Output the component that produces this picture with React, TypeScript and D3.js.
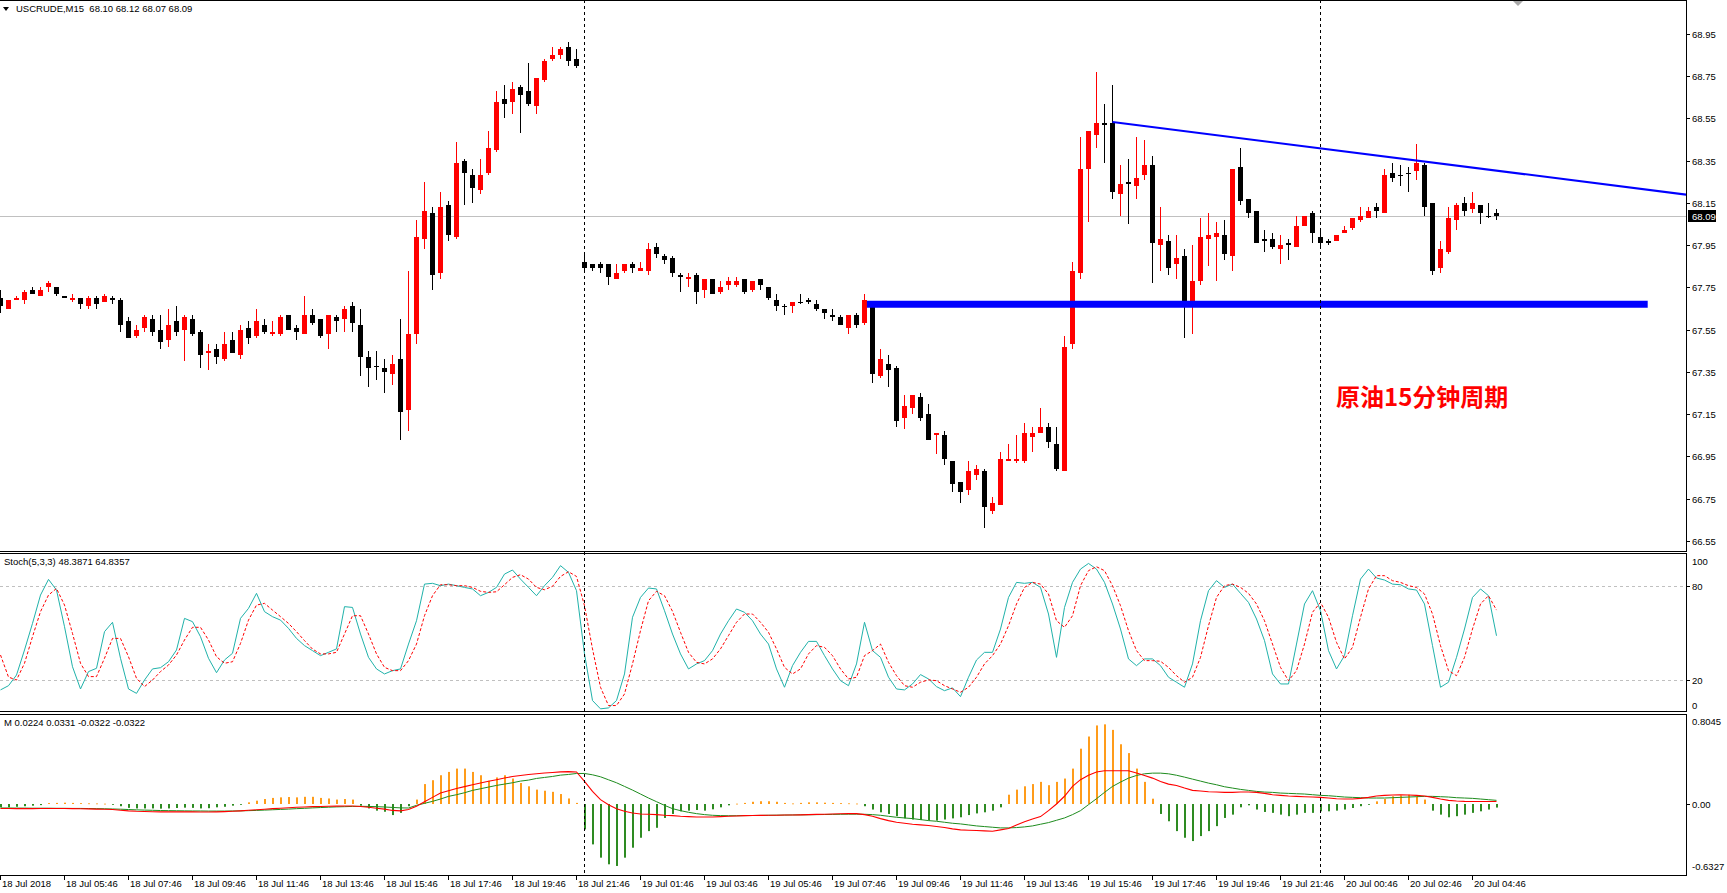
import React from 'react';
import * as d3 from 'd3';

const W = 1727;
const H = 893;

// ---------- price data (15-minute bars) ----------
const openP = [
  67.70, 67.65, 67.69, 67.69, 67.74, 67.71, 67.75, 67.75, 67.71, 67.69,
  67.70, 67.66, 67.70, 67.68, 67.70, 67.69, 67.59, 67.52, 67.56, 67.60,
  67.55, 67.50, 67.59, 67.55, 67.60, 67.54, 67.44, 67.46, 67.41, 67.50,
  67.43, 67.56, 67.52, 67.57, 67.53, 67.53, 67.62, 67.56, 67.53, 67.62,
  67.60, 67.53, 67.61, 67.60, 67.66, 67.57, 67.42, 67.38, 67.37, 67.34,
  67.41, 67.17, 67.53, 67.98, 68.10, 67.82, 68.14, 67.99, 68.35, 68.28,
  68.21, 68.29, 68.40, 68.64, 68.63, 68.70, 68.68, 68.61, 68.73, 68.83,
  68.85, 68.89, 68.83, 67.87, 67.86, 67.86, 67.86, 67.79, 67.83, 67.86,
  67.83, 67.83, 67.94, 67.90, 67.89, 67.81, 67.79, 67.81, 67.74, 67.79,
  67.73, 67.76, 67.76, 67.79, 67.74, 67.79, 67.75, 67.69, 67.66, 67.66,
  67.68, 67.69, 67.67, 67.65, 67.62, 67.61, 67.56, 67.62, 67.58, 67.68,
  67.33, 67.39, 67.37, 67.13, 67.18, 67.23, 67.15, 67.05, 67.05, 66.93,
  66.83, 66.79, 66.86, 66.88, 66.69, 66.72, 66.93, 66.93, 66.93, 67.04,
  67.06, 67.09, 67.01, 66.88, 67.48, 67.82, 68.31, 68.47, 68.53, 68.53,
  68.19, 68.25, 68.23, 68.28, 68.33, 67.95, 67.97, 67.86, 67.90, 67.67,
  67.78, 67.98, 67.99, 68.00, 67.90, 68.32, 68.17, 68.11, 67.98, 67.98,
  67.93, 67.96, 67.94, 68.04, 68.10, 67.99, 67.97, 67.97, 68.01, 68.03,
  68.07, 68.08, 68.13, 68.10, 68.29, 68.28, 68.29, 68.30, 68.33, 68.15,
  67.84, 67.92, 68.07, 68.15, 68.12, 68.14, 68.09, 68.10,
];
const highP = [
  67.74, 67.69, 67.71, 67.74, 67.75, 67.75, 67.78, 67.75, 67.71, 67.72,
  67.70, 67.71, 67.71, 67.72, 67.71, 67.70, 67.61, 67.57, 67.62, 67.62,
  67.62, 67.65, 67.66, 67.62, 67.62, 67.55, 67.48, 67.48, 67.54, 67.54,
  67.57, 67.59, 67.65, 67.60, 67.59, 67.62, 67.62, 67.57, 67.71, 67.65,
  67.60, 67.62, 67.62, 67.66, 67.68, 67.65, 67.45, 67.45, 67.41, 67.43,
  67.60, 67.83, 68.07, 68.25, 68.13, 68.20, 68.16, 68.44, 68.36, 68.31,
  68.36, 68.49, 68.68, 68.71, 68.72, 68.71, 68.81, 68.74, 68.83, 68.89,
  68.89, 68.91, 68.88, 67.91, 67.86, 67.87, 67.86, 67.86, 67.86, 67.87,
  67.87, 67.96, 67.96, 67.91, 67.90, 67.82, 67.82, 67.82, 67.79, 67.79,
  67.78, 67.80, 67.80, 67.79, 67.78, 67.79, 67.75, 67.72, 67.67, 67.68,
  67.72, 67.70, 67.69, 67.65, 67.65, 67.62, 67.62, 67.63, 67.72, 67.68,
  67.46, 67.43, 67.38, 67.24, 67.24, 67.25, 67.20, 67.06, 67.07, 66.93,
  66.83, 66.93, 66.91, 66.89, 66.76, 66.97, 67.01, 67.05, 67.11, 67.09,
  67.18, 67.11, 67.09, 67.52, 67.87, 68.46, 68.49, 68.77, 68.62, 68.71,
  68.33, 68.36, 68.46, 68.45, 68.37, 68.13, 68.00, 68.00, 67.93, 67.95,
  68.08, 68.10, 68.06, 68.07, 68.31, 68.41, 68.17, 68.11, 68.02, 68.01,
  68.00, 67.98, 68.09, 68.09, 68.11, 68.03, 67.98, 68.00, 68.04, 68.08,
  68.13, 68.13, 68.15, 68.31, 68.34, 68.33, 68.32, 68.43, 68.34, 68.15,
  67.97, 68.13, 68.15, 68.18, 68.20, 68.14, 68.15, 68.12,
];
const lowP = [
  67.63, 67.65, 67.69, 67.67, 67.72, 67.71, 67.73, 67.71, 67.70, 67.68,
  67.65, 67.65, 67.65, 67.68, 67.67, 67.54, 67.51, 67.51, 67.54, 67.52,
  67.46, 67.47, 67.52, 67.40, 67.52, 67.37, 67.36, 67.39, 67.40, 67.44,
  67.41, 67.48, 67.51, 67.53, 67.52, 67.52, 67.55, 67.50, 67.53, 67.57,
  67.51, 67.46, 67.54, 67.54, 67.54, 67.33, 67.28, 67.31, 67.25, 67.29,
  67.03, 67.07, 67.48, 67.93, 67.74, 67.79, 67.97, 67.98, 68.14, 68.15,
  68.19, 68.28, 68.39, 68.55, 68.57, 68.48, 68.61, 68.57, 68.72, 68.82,
  68.83, 68.80, 68.79, 67.82, 67.83, 67.82, 67.76, 67.79, 67.82, 67.82,
  67.83, 67.81, 67.89, 67.86, 67.80, 67.73, 67.75, 67.67, 67.70, 67.72,
  67.72, 67.74, 67.75, 67.72, 67.73, 67.74, 67.69, 67.64, 67.62, 67.63,
  67.67, 67.67, 67.64, 67.60, 67.59, 67.57, 67.53, 67.56, 67.57, 67.30,
  67.32, 67.28, 67.09, 67.08, 67.15, 67.12, 67.03, 66.96, 66.91, 66.78,
  66.73, 66.77, 66.84, 66.61, 66.68, 66.72, 66.93, 66.92, 66.92, 66.97,
  67.06, 66.99, 66.88, 66.88, 67.46, 67.79, 68.06, 68.41, 68.34, 68.17,
  68.09, 68.05, 68.17, 68.26, 67.77, 67.83, 67.81, 67.79, 67.51, 67.53,
  67.76, 67.85, 67.78, 67.88, 67.83, 68.14, 68.08, 67.96, 67.92, 67.93,
  67.86, 67.88, 67.94, 68.04, 67.96, 67.93, 67.95, 67.97, 68.01, 68.02,
  68.06, 68.08, 68.08, 68.10, 68.25, 68.23, 68.20, 68.26, 68.09, 67.81,
  67.82, 67.91, 68.02, 68.09, 68.10, 68.05, 68.08, 68.07,
];
const closeP = [
  67.66, 67.69, 67.70, 67.73, 67.72, 67.74, 67.77, 67.72, 67.70, 67.70,
  67.67, 67.70, 67.67, 67.71, 67.69, 67.57, 67.51, 67.55, 67.61, 67.54,
  67.49, 67.57, 67.54, 67.61, 67.53, 67.43, 67.45, 67.42, 67.48, 67.44,
  67.55, 67.51, 67.59, 67.54, 67.54, 67.61, 67.55, 67.54, 67.62, 67.58,
  67.52, 67.62, 67.59, 67.65, 67.58, 67.42, 67.37, 67.38, 67.35, 67.39,
  67.16, 67.53, 67.99, 68.11, 67.81, 68.13, 68.00, 68.34, 68.29, 68.22,
  68.28, 68.41, 68.63, 68.62, 68.69, 68.66, 68.62, 68.74, 68.82, 68.85,
  68.88, 68.82, 68.80, 67.84, 67.84, 67.84, 67.80, 67.82, 67.86, 67.84,
  67.84, 67.93, 67.91, 67.88, 67.82, 67.80, 67.80, 67.73, 67.79, 67.72,
  67.75, 67.78, 67.78, 67.73, 67.78, 67.76, 67.70, 67.66, 67.66, 67.68,
  67.68, 67.68, 67.65, 67.63, 67.61, 67.57, 67.62, 67.57, 67.69, 67.34,
  67.41, 67.36, 67.12, 67.19, 67.24, 67.13, 67.03, 67.06, 66.94, 66.82,
  66.78, 66.88, 66.89, 66.71, 66.73, 66.94, 66.94, 66.94, 67.06, 67.06,
  67.09, 67.02, 66.89, 67.47, 67.83, 68.31, 68.49, 68.53, 68.52, 68.20,
  68.24, 68.24, 68.27, 68.33, 67.96, 67.98, 67.84, 67.89, 67.66, 67.78,
  67.99, 68.00, 68.01, 67.91, 68.31, 68.16, 68.10, 67.96, 67.97, 67.94,
  67.95, 67.95, 68.04, 68.09, 68.01, 67.96, 67.96, 68.00, 68.02, 68.08,
  68.09, 68.11, 68.11, 68.28, 68.27, 68.28, 68.29, 68.34, 68.13, 67.83,
  67.93, 68.08, 68.14, 68.11, 68.15, 68.10, 68.09, 68.09,
];

// ---------- Stochastic(5,3,3) ----------
const stochK = [
  13.8, 16.5, 23.3, 39.3, 56.3, 74.4, 84.4, 77.6, 54.2, 28.6,
  14.4, 25.5, 27.6, 51, 57, 34, 14.4, 11.6, 20.1, 27.2,
  28, 31.8, 39.3, 59.5, 57.4, 47.8, 34, 24.8, 32.9, 37.2,
  59.5, 65.9, 75.5, 63.8, 60.6, 58.4, 53.1, 46.7, 42.1, 38.9,
  35.7, 37.8, 40, 67, 66.5, 49.5, 34.6, 27.2, 24, 26.1,
  27.2, 43.1, 58, 81.4, 81.9, 80.4, 81.4, 80.4, 79.3, 78.3,
  74, 76.1, 79.3, 87.8, 90.4, 84.6, 79.3, 74, 80.4, 85.7,
  93.2, 88.9, 77.2, 36.8, 7, 1.7, 2.3, 7, 24, 60.2,
  72.9, 78.9, 78.3, 64.4, 49.5, 36.8, 27.2, 30.4, 32.5, 38.9,
  49.5, 58, 65.5, 63.4, 58, 49.5, 43.1, 27.2, 15.5, 29.3,
  37.8, 44.8, 44.8, 35.7, 27.2, 19.7, 16.5, 30.4, 57, 38.9,
  34.6, 21.9, 14.4, 13.8, 17.6, 23.6, 20.8, 15.9, 13.3, 15.1,
  9.5, 21.9, 32.9, 37.8, 37.8, 52.7, 72.9, 82.5, 81.9, 82.5,
  79.3, 62.3, 34.6, 66.5, 82.5, 91, 94.6, 91, 82.5, 68.7,
  52.7, 33.6, 29.3, 33.6, 33.6, 29.3, 21.9, 18.7, 15.5, 30.4,
  58, 77.2, 83.6, 79.3, 81.4, 75.5, 69.7, 59.1, 45.3, 24,
  17.6, 17.6, 43.1, 68.7, 77.2, 64.4, 38.9, 27.2, 35.7, 61.2,
  84.6, 91, 85.3, 84, 81.4, 81, 78.3, 77.6, 68.7, 42.1,
  15.5, 18.7, 34.6, 52.7, 72.9, 78.3, 74, 48.4,
];
const stochD = [
  36.1, 22, 20.1, 30.8, 47.8, 63.8, 74.4, 78.6, 68, 49.9,
  30.8, 22.3, 22.3, 34, 46.7, 46.7, 35, 21.2, 15.9, 20.1,
  25.5, 29.7, 36.1, 45.7, 53.8, 53.8, 45.7, 35, 30.8, 31.8,
  43.5, 58.4, 68, 69.1, 64.8, 60.6, 56.3, 51, 45.3, 39.9,
  36.8, 36.8, 37.8, 49.5, 61.2, 61.2, 49.5, 36.8, 28.2, 26.1,
  26.1, 32.5, 43.1, 61.2, 74, 81, 81, 80.4, 80.4, 79.3,
  76.8, 76.1, 76.5, 81, 85.7, 87.4, 84.6, 79.3, 77.8, 80,
  86.3, 89.3, 86.3, 67.6, 40, 15.5, 3.8, 3.8, 11.2, 30.4,
  51.7, 70.8, 76.8, 74, 64, 50.6, 37.8, 31.4, 30.4, 33.6,
  40, 48.5, 57, 62.3, 62.3, 57, 50.6, 40, 28.2, 24,
  27.2, 36.8, 42.1, 41, 35.7, 27.2, 20.8, 21.9, 35.7, 38.9,
  43.1, 31.4, 22.9, 16.5, 15.5, 18.7, 20.2, 19.7, 16.5, 14.4,
  12.3, 15.5, 21.9, 30.4, 35.7, 43.1, 54.8, 68.7, 79.3, 82.5,
  81.4, 75.1, 58, 53.8, 61.2, 80.4, 90, 92.5, 90, 80.4,
  67.6, 51.7, 38.9, 32.5, 32.5, 32.1, 28.2, 22.9, 18.7, 21.9,
  34.6, 54.8, 72.9, 80.4, 81.4, 79.3, 75.5, 68.7, 58, 43.1,
  28.2, 19.7, 26.1, 43.1, 63.4, 69.7, 60.2, 44.2, 33.6, 41,
  60.2, 78.3, 86.8, 86.8, 83.6, 82.5, 80.4, 79.3, 75.1, 62.3,
  42.1, 26.1, 22.9, 34.6, 52.7, 68.7, 74, 64.8,
];
const stochLevels = [80, 20];
const stochAxisLabels = [100, 80, 20, 0];

// ---------- MACD-style oscillator ----------
const macdHist = [
  -0.03, -0.03, -0.025, -0.02, -0.015, -0.01, 0.008, 0.01, 0.012, 0.01,
  0.008, 0.006, 0.005, 0.003, -0.005, -0.02, -0.035, -0.04, -0.04, -0.04,
  -0.042, -0.04, -0.036, -0.033, -0.035, -0.04, -0.038, -0.03, -0.025, -0.015,
  -0.005, 0.015, 0.03, 0.045, 0.055, 0.06, 0.063, 0.06, 0.065, 0.065,
  0.055, 0.05, 0.04, 0.045, 0.04, -0.015, -0.04, -0.06, -0.07, -0.1,
  -0.08, -0.02, 0.04, 0.18, 0.215, 0.26, 0.29, 0.32, 0.32, 0.29,
  0.26, 0.21, 0.24, 0.26, 0.23, 0.19, 0.16, 0.13, 0.12, 0.11,
  0.09, 0.05, 0.01, -0.23, -0.365, -0.485, -0.545, -0.56, -0.485, -0.395,
  -0.305, -0.245, -0.215, -0.126, -0.09, -0.066, -0.06, -0.054, -0.06, -0.048,
  -0.03, -0.012, 0.003, 0.01, 0.02, 0.025, 0.025, 0.02, 0.01, 0.005,
  0.01, 0.015, 0.015, 0.012, 0.01, 0.008, 0.006, 0.004, -0.02, -0.05,
  -0.075, -0.09, -0.11, -0.13, -0.14, -0.145, -0.15, -0.15, -0.14, -0.13,
  -0.12, -0.1, -0.085, -0.075, -0.06, -0.03, 0.084, 0.13, 0.16, 0.18,
  0.2, 0.17, 0.2, 0.23, 0.32, 0.5, 0.61, 0.71, 0.72, 0.67,
  0.54, 0.46, 0.32, 0.2, 0.048, -0.09, -0.156, -0.245, -0.305, -0.335,
  -0.29, -0.245, -0.2, -0.126, -0.096, -0.03, -0.012, -0.05, -0.072, -0.08,
  -0.096, -0.11, -0.096, -0.08, -0.08, -0.066, -0.066, -0.06, -0.05, -0.036,
  -0.02, -0.006, 0.024, 0.045, 0.07, 0.078, 0.084, 0.07, 0.04, -0.06,
  -0.096, -0.12, -0.11, -0.096, -0.08, -0.066, -0.05, -0.0322,
];
const macdRed = [
  -0.040, -0.041, -0.042, -0.042, -0.042, -0.041, -0.040, -0.040, -0.041, -0.042,
  -0.043, -0.044, -0.046, -0.048, -0.050, -0.056, -0.062, -0.066, -0.068, -0.070,
  -0.071, -0.071, -0.071, -0.071, -0.071, -0.072, -0.072, -0.071, -0.069, -0.066,
  -0.062, -0.057, -0.052, -0.047, -0.042, -0.038, -0.034, -0.030, -0.027, -0.024,
  -0.022, -0.020, -0.019, -0.018, -0.018, -0.022, -0.030, -0.038, -0.046, -0.058,
  -0.062, -0.050, -0.020, 0.020, 0.060, 0.099, 0.120, 0.140, 0.157, 0.174,
  0.190, 0.205, 0.220, 0.235, 0.248, 0.258, 0.266, 0.274, 0.280, 0.285,
  0.290, 0.293, 0.290, 0.204, 0.114, 0.039, -0.006, -0.042, -0.066, -0.081,
  -0.090, -0.093, -0.096, -0.102, -0.105, -0.111, -0.114, -0.117, -0.117, -0.117,
  -0.114, -0.111, -0.108, -0.105, -0.104, -0.103, -0.102, -0.101, -0.100, -0.099,
  -0.098, -0.096, -0.094, -0.092, -0.090, -0.088, -0.087, -0.087, -0.096, -0.111,
  -0.132, -0.150, -0.165, -0.174, -0.183, -0.189, -0.195, -0.204, -0.213, -0.225,
  -0.234, -0.237, -0.240, -0.243, -0.246, -0.234, -0.222, -0.190, -0.160, -0.135,
  -0.114, -0.060, 0.000, 0.070, 0.160, 0.220, 0.260, 0.290, 0.300, 0.300,
  0.300, 0.300, 0.280, 0.258, 0.234, 0.204, 0.180, 0.168, 0.144, 0.123,
  0.117, 0.111, 0.108, 0.105, 0.105, 0.108, 0.108, 0.105, 0.096, 0.084,
  0.078, 0.072, 0.069, 0.066, 0.063, 0.060, 0.054, 0.048, 0.045, 0.045,
  0.051, 0.060, 0.072, 0.078, 0.081, 0.084, 0.081, 0.078, 0.072, 0.060,
  0.045, 0.033, 0.027, 0.024, 0.023, 0.023, 0.022, 0.0224,
];
const macdGreen = [
  -0.036, -0.036, -0.037, -0.037, -0.038, -0.038, -0.038, -0.039, -0.039, -0.040,
  -0.040, -0.041, -0.042, -0.043, -0.045, -0.047, -0.050, -0.053, -0.055, -0.057,
  -0.059, -0.060, -0.061, -0.062, -0.063, -0.063, -0.064, -0.064, -0.064, -0.063,
  -0.062, -0.060, -0.058, -0.055, -0.052, -0.049, -0.046, -0.042, -0.039, -0.035,
  -0.032, -0.029, -0.026, -0.024, -0.022, -0.021, -0.022, -0.024, -0.027, -0.031,
  -0.035, -0.036, -0.012, 0.006, 0.024, 0.045, 0.069, 0.084, 0.102, 0.123,
  0.138, 0.153, 0.168, 0.180, 0.192, 0.207, 0.216, 0.231, 0.240, 0.249,
  0.261, 0.267, 0.276, 0.276, 0.264, 0.246, 0.219, 0.192, 0.159, 0.126,
  0.090, 0.054, 0.021, -0.012, -0.042, -0.060, -0.075, -0.087, -0.096, -0.102,
  -0.105, -0.106, -0.106, -0.105, -0.104, -0.103, -0.102, -0.101, -0.100, -0.099,
  -0.098, -0.097, -0.096, -0.095, -0.094, -0.093, -0.092, -0.092, -0.093, -0.096,
  -0.102, -0.111, -0.120, -0.126, -0.132, -0.141, -0.150, -0.156, -0.165, -0.174,
  -0.180, -0.189, -0.198, -0.204, -0.210, -0.216, -0.216, -0.213, -0.207, -0.198,
  -0.183, -0.168, -0.147, -0.126, -0.096, -0.060, -0.006, 0.048, 0.105, 0.159,
  0.198, 0.234, 0.258, 0.273, 0.279, 0.279, 0.273, 0.260, 0.243, 0.225,
  0.207, 0.189, 0.174, 0.156, 0.144, 0.132, 0.123, 0.114, 0.108, 0.105,
  0.099, 0.096, 0.093, 0.090, 0.084, 0.078, 0.075, 0.069, 0.063, 0.060,
  0.057, 0.054, 0.054, 0.054, 0.057, 0.060, 0.063, 0.066, 0.069, 0.069,
  0.066, 0.063, 0.057, 0.054, 0.051, 0.045, 0.039, 0.0331,
];
const macdAxisLabels = [
  { v: 0.8045, t: '0.8045' },
  { v: 0, t: '0.00' },
  { v: -0.6327, t: '-0.6327' },
];

// ---------- axes / annotations ----------
const priceTicks = [68.95, 68.75, 68.55, 68.35, 68.15, 67.95, 67.75, 67.55, 67.35, 67.15, 66.95, 66.75, 66.55];
const timeLabels = [
  '18 Jul 2018', '18 Jul 05:46', '18 Jul 07:46', '18 Jul 09:46', '18 Jul 11:46', '18 Jul 13:46',
  '18 Jul 15:46', '18 Jul 17:46', '18 Jul 19:46', '18 Jul 21:46', '19 Jul 01:46', '19 Jul 03:46',
  '19 Jul 05:46', '19 Jul 07:46', '19 Jul 09:46', '19 Jul 11:46', '19 Jul 13:46', '19 Jul 15:46',
  '19 Jul 17:46', '19 Jul 19:46', '19 Jul 21:46', '20 Jul 00:46', '20 Jul 02:46', '20 Jul 04:46',
];
const barsPerTimeLabel = 8;
const daySeparatorBars = [73, 165];
const bidPrice = 68.09;
const supportLine: [number, number][] = [[108.3, 67.67], [205.9, 67.67]];
const trendLine: [number, number][] = [[139, 68.533], [210.75, 68.189]];
const headerText = 'USCRUDE,M15  68.10 68.12 68.07 68.09';
const stochText = 'Stoch(5,3,3) 48.3871 64.8357';
const macdText = 'M 0.0224 0.0331 -0.0322 -0.0322';
const noteText = '原油15分钟周期';

// ---------- layout ----------
const RIGHT = 1686;
const MAIN = { top: 0, bottom: 551 };
const STO = { top: 553, bottom: 711 };
const MAC = { top: 714, bottom: 875 };
const FONT = "'Liberation Sans', Arial, sans-serif";
const FS = 9.5;

const N = closeP.length;
const x = d3.scaleLinear().domain([0, N - 1]).range([0.5, 0.5 + 8 * (N - 1)]);
const yP = d3.scaleLinear().domain([66.55, 68.95]).range([541, 33.9]);
const yS = d3.scaleLinear().domain([0, 100]).range([711.5, 555]);
const yM = d3.scaleLinear().domain([-0.6327, 0.8045]).range([874, 715]);

const RED = '#FF0000';
const ORANGE = '#FF9C1A';
const GREENH = '#2E8B22';

export default function App() {
  const idx = d3.range(N);
  const kLine = d3.line<number>().x((i) => x(i)).y((i) => yS(stochK[i]))(idx) || '';
  const dLine = d3.line<number>().x((i) => x(i)).y((i) => yS(stochD[i]))(idx) || '';
  const redLine = d3.line<number>().x((i) => x(i)).y((i) => yM(macdRed[i]))(idx) || '';
  const greenLine = d3.line<number>().x((i) => x(i)).y((i) => yM(macdGreen[i]))(idx) || '';
  const y0 = yM(0);
  const bidY = Math.round(yP(bidPrice)) + 0.5;

  return (
    <svg
      width={W}
      height={H}
      viewBox={`0 0 ${W} ${H}`}
      style={{ position: 'absolute', left: 0, top: 0, display: 'block', background: '#fff' }}
      fontFamily={FONT}
    >
      <defs>
        <clipPath id="cMain"><rect x={0} y={MAIN.top + 1} width={RIGHT} height={MAIN.bottom - MAIN.top - 1} /></clipPath>
        <clipPath id="cSto"><rect x={0} y={STO.top + 1} width={RIGHT} height={STO.bottom - STO.top - 1} /></clipPath>
        <clipPath id="cMac"><rect x={0} y={MAC.top + 1} width={RIGHT} height={MAC.bottom - MAC.top - 1} /></clipPath>
      </defs>
      <rect x={0} y={0} width={W} height={H} fill="#fff" />

      {/* ===== main panel ===== */}
      <g clipPath="url(#cMain)">
        <line x1={0} x2={RIGHT} y1={bidY} y2={bidY} stroke="#C0C0C0" strokeWidth={1} />
        {idx.map((i) => {
          const o = openP[i], h = highP[i], l = lowP[i], c = closeP[i];
          const col = c > o ? RED : '#000';
          const px = Math.floor(x(i));
          const yt = Math.round(yP(Math.max(o, c)));
          const yb = Math.round(yP(Math.min(o, c)));
          const yh = Math.round(yP(h));
          const yl = Math.round(yP(l));
          return (
            <g key={i}>
              <rect x={px} y={yh} width={1} height={Math.max(1, yl - yh)} fill={col} />
              <rect x={px - 2} y={yt} width={5} height={Math.max(1, yb - yt)} fill={col} />
            </g>
          );
        })}
        <line
          x1={x(supportLine[0][0])} x2={x(supportLine[1][0])}
          y1={yP(supportLine[0][1])} y2={yP(supportLine[1][1])}
          stroke="#0000FF" strokeWidth={7}
        />
        <line
          x1={x(trendLine[0][0])} x2={x(trendLine[1][0])}
          y1={yP(trendLine[0][1])} y2={yP(trendLine[1][1])}
          stroke="#0000FF" strokeWidth={2}
        />
      </g>
      <text x={1336} y={406} fontFamily="'Noto Sans CJK SC', sans-serif" fontWeight="bold" fontSize={24} fill={RED}>
        {noteText}
      </text>
      <polygon points="3,7 9,7 6,11" fill="#000" />
      <text x={16} y={12} fontSize={FS} fill="#000" style={{ whiteSpace: 'pre' }}>{headerText}</text>
      <polygon points="1513,1 1523,1 1518,6" fill="#A8A8A8" />

      {/* ===== stochastic panel ===== */}
      <g clipPath="url(#cSto)">
        {stochLevels.map((v) => (
          <line key={v} x1={0} x2={RIGHT} y1={Math.round(yS(v)) + 0.5} y2={Math.round(yS(v)) + 0.5}
            stroke="#C0C0C0" strokeWidth={1} strokeDasharray="3,3" />
        ))}
        <path d={kLine} fill="none" stroke="#20B2AA" strokeWidth={1} />
        <path d={dLine} fill="none" stroke={RED} strokeWidth={1} strokeDasharray="3,2" />
      </g>
      <text x={4} y={565} fontSize={FS} fill="#000">{stochText}</text>

      {/* ===== MACD panel ===== */}
      <g clipPath="url(#cMac)">
        {idx.map((i) => {
          const v = macdHist[i];
          const yv = yM(v);
          const top = Math.min(yv, y0);
          return (
            <rect key={i} x={Math.floor(x(i))} y={top} width={2} height={Math.max(0.8, Math.abs(yv - y0))}
              fill={v >= 0 ? ORANGE : GREENH} />
          );
        })}
        <path d={greenLine} fill="none" stroke="#1E8C1E" strokeWidth={1} />
        <path d={redLine} fill="none" stroke={RED} strokeWidth={1.1} />
      </g>
      <text x={4} y={726} fontSize={FS} fill="#000">{macdText}</text>

      {/* ===== day separators ===== */}
      {daySeparatorBars.map((b) => (
        <line key={b} x1={Math.floor(x(b)) + 0.5} x2={Math.floor(x(b)) + 0.5} y1={0} y2={MAC.bottom}
          stroke="#000" strokeWidth={1} strokeDasharray="3,3" />
      ))}

      {/* ===== panel borders ===== */}
      {[MAIN, STO, MAC].map((p, k) => (
        <g key={k}>
          <line x1={0} x2={RIGHT + 0.5} y1={p.top + 0.5} y2={p.top + 0.5} stroke="#000" />
          <line x1={0} x2={RIGHT + 0.5} y1={p.bottom + 0.5} y2={p.bottom + 0.5} stroke="#000" />
          <line x1={RIGHT + 0.5} x2={RIGHT + 0.5} y1={p.top} y2={p.bottom + 1} stroke="#000" />
        </g>
      ))}

      {/* ===== price axis ===== */}
      {priceTicks.map((p) => {
        const yy = Math.round(yP(p)) + 0.5;
        return (
          <g key={p}>
            <line x1={RIGHT} x2={RIGHT + 4} y1={yy} y2={yy} stroke="#000" />
            <text x={1692} y={yy + 3.5} fontSize={FS} fill="#000">{p.toFixed(2)}</text>
          </g>
        );
      })}
      <rect x={1688} y={bidY - 6.5} width={28} height={12} fill="#000" />
      <text x={1692} y={bidY + 3.5} fontSize={FS} fill="#fff">{bidPrice.toFixed(2)}</text>

      {/* stochastic axis */}
      {stochAxisLabels.map((v) => {
        const base = yS(v);
        const yy = v === 100 ? base + 6 : v === 0 ? base - 6.5 : base;
        return (
          <g key={v}>
            {v !== 100 && v !== 0 && (
              <line x1={RIGHT} x2={RIGHT + 4} y1={Math.round(base) + 0.5} y2={Math.round(base) + 0.5} stroke="#000" />
            )}
            <text x={1692} y={yy + 3.5} fontSize={FS} fill="#000">{v}</text>
          </g>
        );
      })}
      {/* MACD axis */}
      {macdAxisLabels.map((m) => {
        const base = yM(m.v);
        const yy = m.v > 0.5 ? base + 6.5 : m.v < -0.5 ? base - 8 : base;
        return (
          <g key={m.t}>
            {m.v === 0 && (
              <line x1={RIGHT} x2={RIGHT + 4} y1={Math.round(base) + 0.5} y2={Math.round(base) + 0.5} stroke="#000" />
            )}
            <text x={1692} y={yy + 3.5} fontSize={FS} fill="#000">{m.t}</text>
          </g>
        );
      })}

      {/* ===== time axis ===== */}
      {timeLabels.map((t, k) => {
        const tx = Math.floor(x(k * barsPerTimeLabel)) + 0.5;
        return (
          <g key={t}>
            <line x1={tx} x2={tx} y1={MAC.bottom + 1} y2={MAC.bottom + 5} stroke="#000" />
            <text x={tx + 1.5} y={887} fontSize={FS} fill="#000">{t}</text>
          </g>
        );
      })}
    </svg>
  );
}
